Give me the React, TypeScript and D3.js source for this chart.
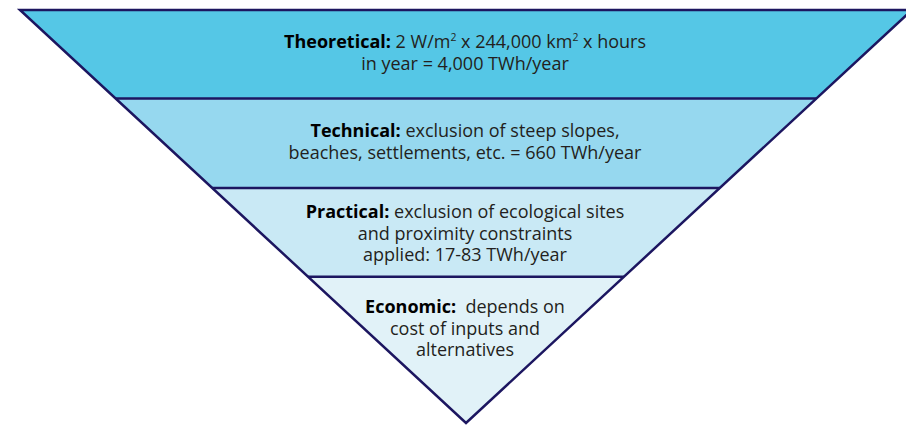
import React from "react";
import * as d3 from "d3";

// Levels of the resource potential pyramid (top to bottom)
const levelLabels = ["Theoretical:", "Technical:", "Practical:", "Economic:"];
const levelLines: string[][] = [
  ["2 W/m² x 244,000 km² x hours", "in year = 4,000 TWh/year"],
  ["exclusion of steep slopes,", "beaches, settlements, etc. = 660 TWh/year"],
  ["exclusion of ecological sites", "and proximity constraints", "applied: 17-83 TWh/year"],
  ["\u00a0depends on", "cost of inputs and", "alternatives"],
];
// Depth breaks (fraction of the funnel depth) between levels
const depthBreaks = [0, 0.2145, 0.431, 0.646, 1];
const fills = ["#55c7e6", "#96d8ef", "#c9e9f5", "#e1f2f8"];

const W = 906;
const H = 426;
const topY = 10;
const apexY = 423;
const cx = 466;
const halfTop = 446;
const stroke = "#1c1660";
const font = "'Open Sans', sans-serif";
const fontSize = 18;
const lineH = 21.5;
const supShift = 7;

function renderLine(s: string) {
  const parts = s.split("²");
  const out: React.ReactNode[] = [];
  parts.forEach((p, i) => {
    out.push(
      <tspan key={"p" + i} dy={i > 0 ? supShift : undefined}>
        {p}
      </tspan>
    );
    if (i < parts.length - 1) {
      out.push(
        <tspan key={"s" + i} fontSize={fontSize * 0.58} dy={-supShift}>
          2
        </tspan>
      );
    }
  });
  return out;
}

export default function App() {
  const y = d3.scaleLinear().domain([0, 1]).range([topY, apexY]);
  const half = d3.scaleLinear().domain([0, 1]).range([halfTop, 0]);

  const bands = depthBreaks.slice(0, -1).map((d0, i) => {
    const d1 = depthBreaks[i + 1];
    const pts: [number, number][] = [
      [cx - half(d0), y(d0)],
      [cx + half(d0), y(d0)],
      [cx + half(d1), y(d1)],
      [cx - half(d1), y(d1)],
    ];
    return { pts, i };
  });
  const line = d3.line();

  const firstBaseline = [48, 137, 218, 313];

  return (
    <svg
      width={W}
      height={H}
      style={{ position: "absolute", left: 0, top: 0, background: "#fff" }}
    >
      {bands.map((b) => (
        <path key={b.i} d={line(b.pts)! + "Z"} fill={fills[b.i]} stroke="none" />
      ))}
      {depthBreaks.slice(1, -1).map((d, i) => (
        <line
          key={i}
          x1={cx - half(d)}
          x2={cx + half(d)}
          y1={y(d)}
          y2={y(d)}
          stroke={stroke}
          strokeWidth={2.5}
        />
      ))}
      <path
        d={
          line([
            [cx - half(0), y(0)],
            [cx + half(0), y(0)],
            [cx, y(1)],
          ])! + "Z"
        }
        fill="none"
        stroke={stroke}
        strokeWidth={2.5}
        strokeLinejoin="miter"
      />
      {levelLines.map((lines, i) => (
        <text
          key={i}
          textAnchor="middle"
          fontFamily={font}
          fontSize={fontSize}
          fill="#231f20"
        >
          {lines.map((l, j) => (
            <tspan key={j} x={465} y={firstBaseline[i] + j * lineH}>
              {j === 0 ? (
                <tspan fontWeight="bold" fill="#000">
                  {levelLabels[i]}{" "}
                </tspan>
              ) : null}
              {renderLine(l)}
            </tspan>
          ))}
        </text>
      ))}
    </svg>
  );
}
